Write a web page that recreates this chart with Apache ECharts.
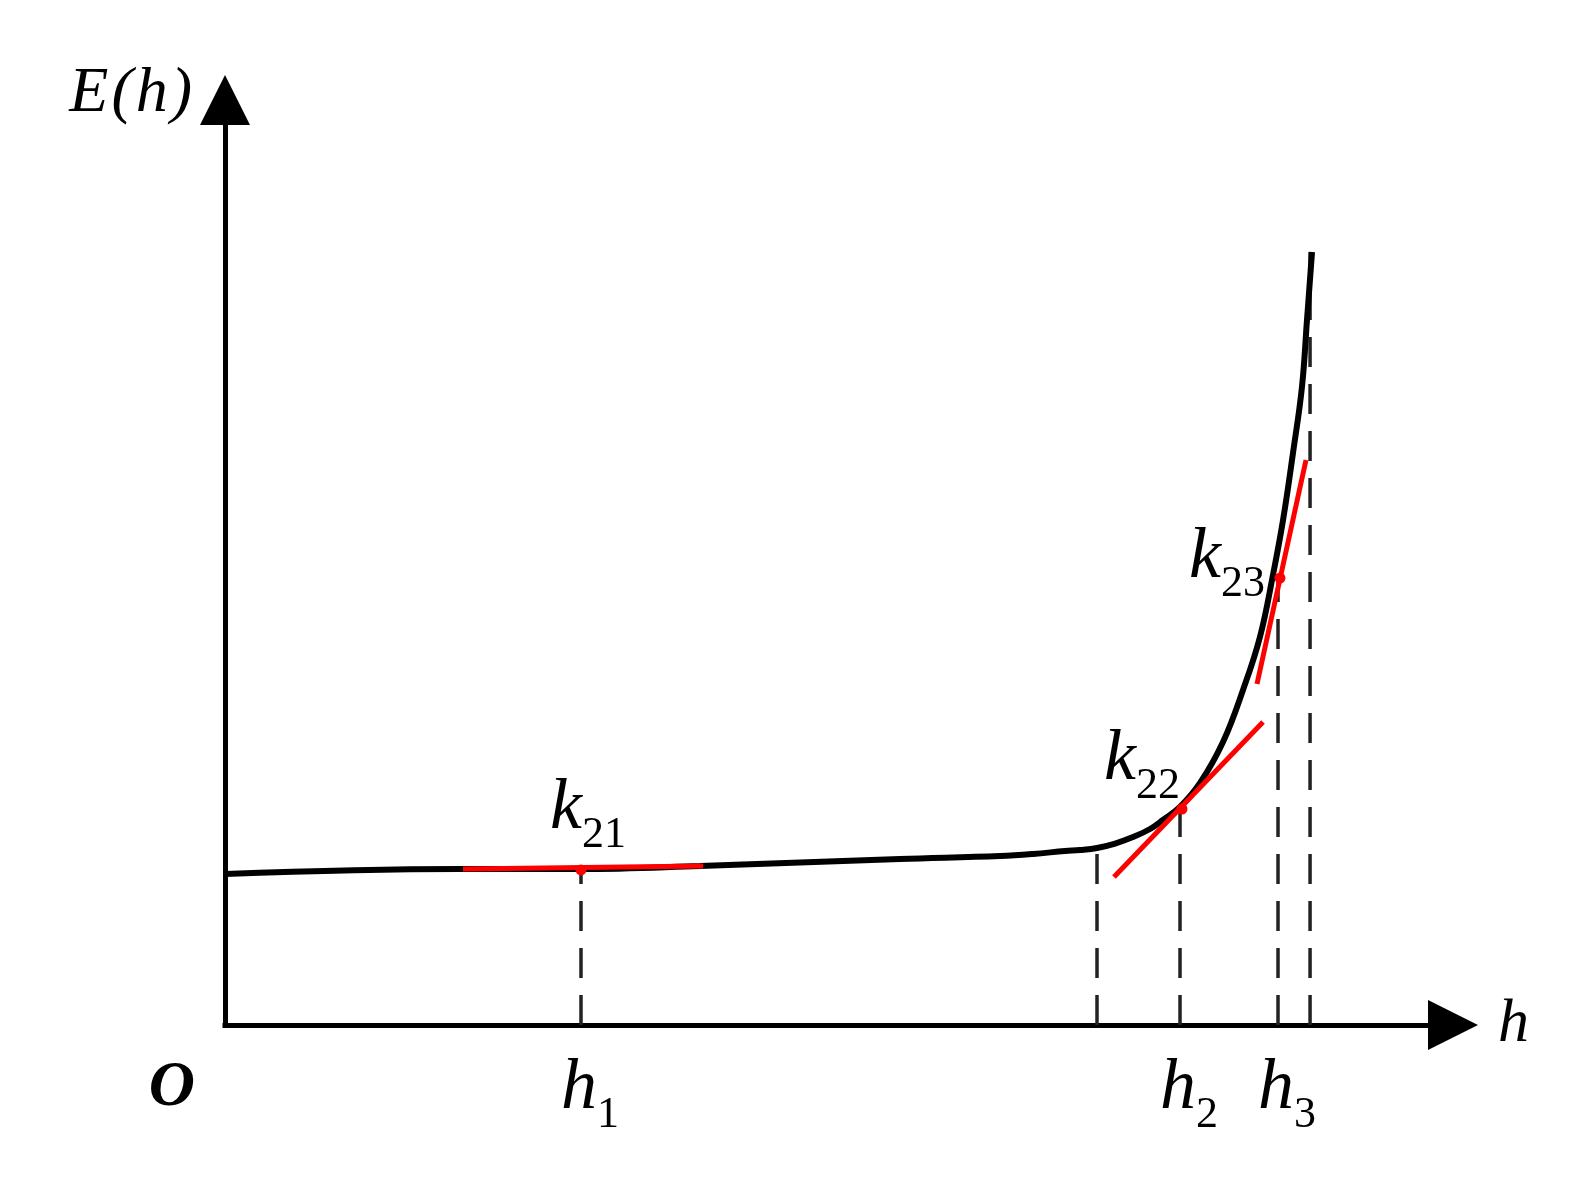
<!DOCTYPE html>
<html>
<head>
<meta charset="utf-8">
<title>E(h)</title>
<script src="https://cdn.jsdelivr.net/npm/echarts@6/dist/echarts.min.js"></script>
<style>
  html, body { margin: 0; padding: 0; background: #fff; }
  #chart { width: 1587px; height: 1183px; }
</style>
</head>
<body>
<div id="chart"></div>
<script>
// curve E(h) (axis units 0..100)
const curveX = [0, 19.14, 28.91, 38.68, 54.97, 63.11, 65.8, 68.4, 69.63, 71.01, 72.48, 73.94, 75.33, 76.38, 77.77, 79.4, 81.27, 82.9, 84.28, 85.34, 86.16, 86.97, 87.7, 88.11, 88.52];
const curveY = [16.32, 16.86, 16.86, 17.19, 17.95, 18.27, 18.49, 18.81, 18.92, 19.14, 19.62, 20.32, 21.19, 22.16, 23.57, 26.16, 30.59, 36.22, 41.95, 48.65, 54.59, 61.84, 68.97, 76.22, 83.57];

// dashed drop lines (x, top of line)
const dropX = [28.99, 71.01, 77.77, 85.75, 88.36];
const dropTop = [16.86, 19.14, 23.57, 48.3, 83.57];

// red tangents k21, k22, k23
const tangentSubs = ['21', '22', '23'];
const tangentStart = [[19.38, 16.86], [72.39, 16.0], [84.04, 36.86]];
const tangentEnd = [[38.93, 17.19], [84.53, 32.76], [88.03, 61.08]];
const tangentPoints = [[28.99, 16.76], [77.93, 23.35], [85.91, 48.32]];
const kLabelPos = [[29.56, 23.35], [74.67, 28.65], [81.6, 50.49]];

// x tick labels h1, h2, h3
const tickValues = [28.99, 77.77, 85.75];
const tickSubs = ['1', '2', '3'];

const originPos = [-4.32, -6.81];

const serif = '"Liberation Serif", "Times New Roman", serif';
const richSub = {
  i: { fontFamily: serif, fontStyle: 'italic', fontSize: 72, lineHeight: 96, color: '#000' },
  s: { fontFamily: serif, fontSize: 44, lineHeight: 44, verticalAlign: 'bottom', color: '#000' }
};
// E(h) with a little air round the brackets
const richName = {
  t: { fontFamily: serif, fontStyle: 'italic', fontSize: 64, color: '#000' },
  p: { fontFamily: serif, fontStyle: 'italic', fontSize: 64, color: '#000', padding: [0, 3, 0, 3] }
};

const chart = echarts.init(document.getElementById('chart'), null, { renderer: 'canvas' });

const series = [];

dropX.forEach((x, i) => {
  series.push({
    type: 'line',
    data: [[x, 0], [x, dropTop[i]]],
    symbol: 'none',
    silent: true,
    z: 1,
    lineStyle: { color: '#222', width: 3.5, type: [30, 17] }
  });
});

series.push({
  type: 'line',
  data: curveX.map((x, i) => [x, curveY[i]]),
  symbol: 'none',
  smooth: 0.4,
  z: 2,
  lineStyle: { color: '#000', width: 6 }
});

tangentStart.forEach((p, i) => {
  series.push({
    type: 'line',
    data: [p, tangentEnd[i]],
    symbol: 'none',
    z: 3,
    lineStyle: { color: '#ff0000', width: 5 }
  });
});

series.push({
  type: 'scatter',
  data: tangentPoints,
  symbol: 'circle',
  symbolSize: 11,
  z: 4,
  itemStyle: { color: '#ff0000', opacity: 1 }
});

// k labels and the origin mark (scatter defaults to 0.8 opacity, labels follow it)
series.push({
  type: 'scatter',
  clip: false,
  symbolSize: 0,
  z: 5,
  itemStyle: { color: '#000', opacity: 1 },
  data: kLabelPos.map((p, i) => ({ value: p, name: tangentSubs[i] })),
  label: {
    show: true,
    position: 'inside',
    verticalAlign: 'middle',
    color: '#000',
    opacity: 1,
    textBorderWidth: 0,
    formatter: (p) => '{i|k}{s|' + p.name + '}',
    rich: richSub
  }
});

series.push({
  type: 'scatter',
  clip: false,
  symbolSize: 0,
  z: 5,
  itemStyle: { color: '#000', opacity: 1 },
  data: [{ value: originPos, name: 'O' }],
  label: {
    show: true,
    position: 'inside',
    formatter: '{b}',
    fontFamily: serif,
    fontStyle: 'italic',
    fontWeight: 'bold',
    fontSize: 64,
    color: '#000',
    opacity: 1,
    textBorderWidth: 0
  }
});

chart.setOption({
  animation: false,
  backgroundColor: '#fff',
  grid: { left: 225, right: 134, top: 100, bottom: 158, outerBoundsMode: 'none' },
  xAxis: {
    type: 'value',
    min: 0,
    max: 100,
    name: 'h',
    nameLocation: 'end',
    nameGap: 45,
    nameTextStyle: { fontFamily: serif, fontStyle: 'italic', fontSize: 62, color: '#000', verticalAlign: 'middle' },
    axisLine: {
      onZero: false,
      symbol: ['none', 'triangle'],
      symbolSize: [50, 50],
      lineStyle: { color: '#000', width: 5, cap: 'square' }
    },
    axisTick: { show: false },
    splitLine: { show: false },
    axisLabel: {
      customValues: tickValues,
      margin: 16,
      padding: [0, 0, 0, 18],
      formatter: (v) => '{i|h}{s|' + tickSubs[tickValues.indexOf(v)] + '}',
      rich: richSub
    }
  },
  yAxis: {
    type: 'value',
    min: 0,
    max: 100,
    name: '{t|E}{p|(}{t|h}{p|)}',
    nameLocation: 'end',
    nameGap: 6,
    nameTextStyle: {
      fontFamily: serif, fontStyle: 'italic', fontSize: 64, color: '#000',
      align: 'right', verticalAlign: 'middle', padding: [0, 30, 0, 0],
      rich: richName
    },
    axisLine: {
      show: true,
      onZero: false,
      symbol: ['none', 'triangle'],
      symbolSize: [50, 50],
      lineStyle: { color: '#000', width: 5, cap: 'square' }
    },
    axisTick: { show: false },
    splitLine: { show: false },
    axisLabel: { show: false }
  },
  series: series
});
</script>
</body>
</html>
